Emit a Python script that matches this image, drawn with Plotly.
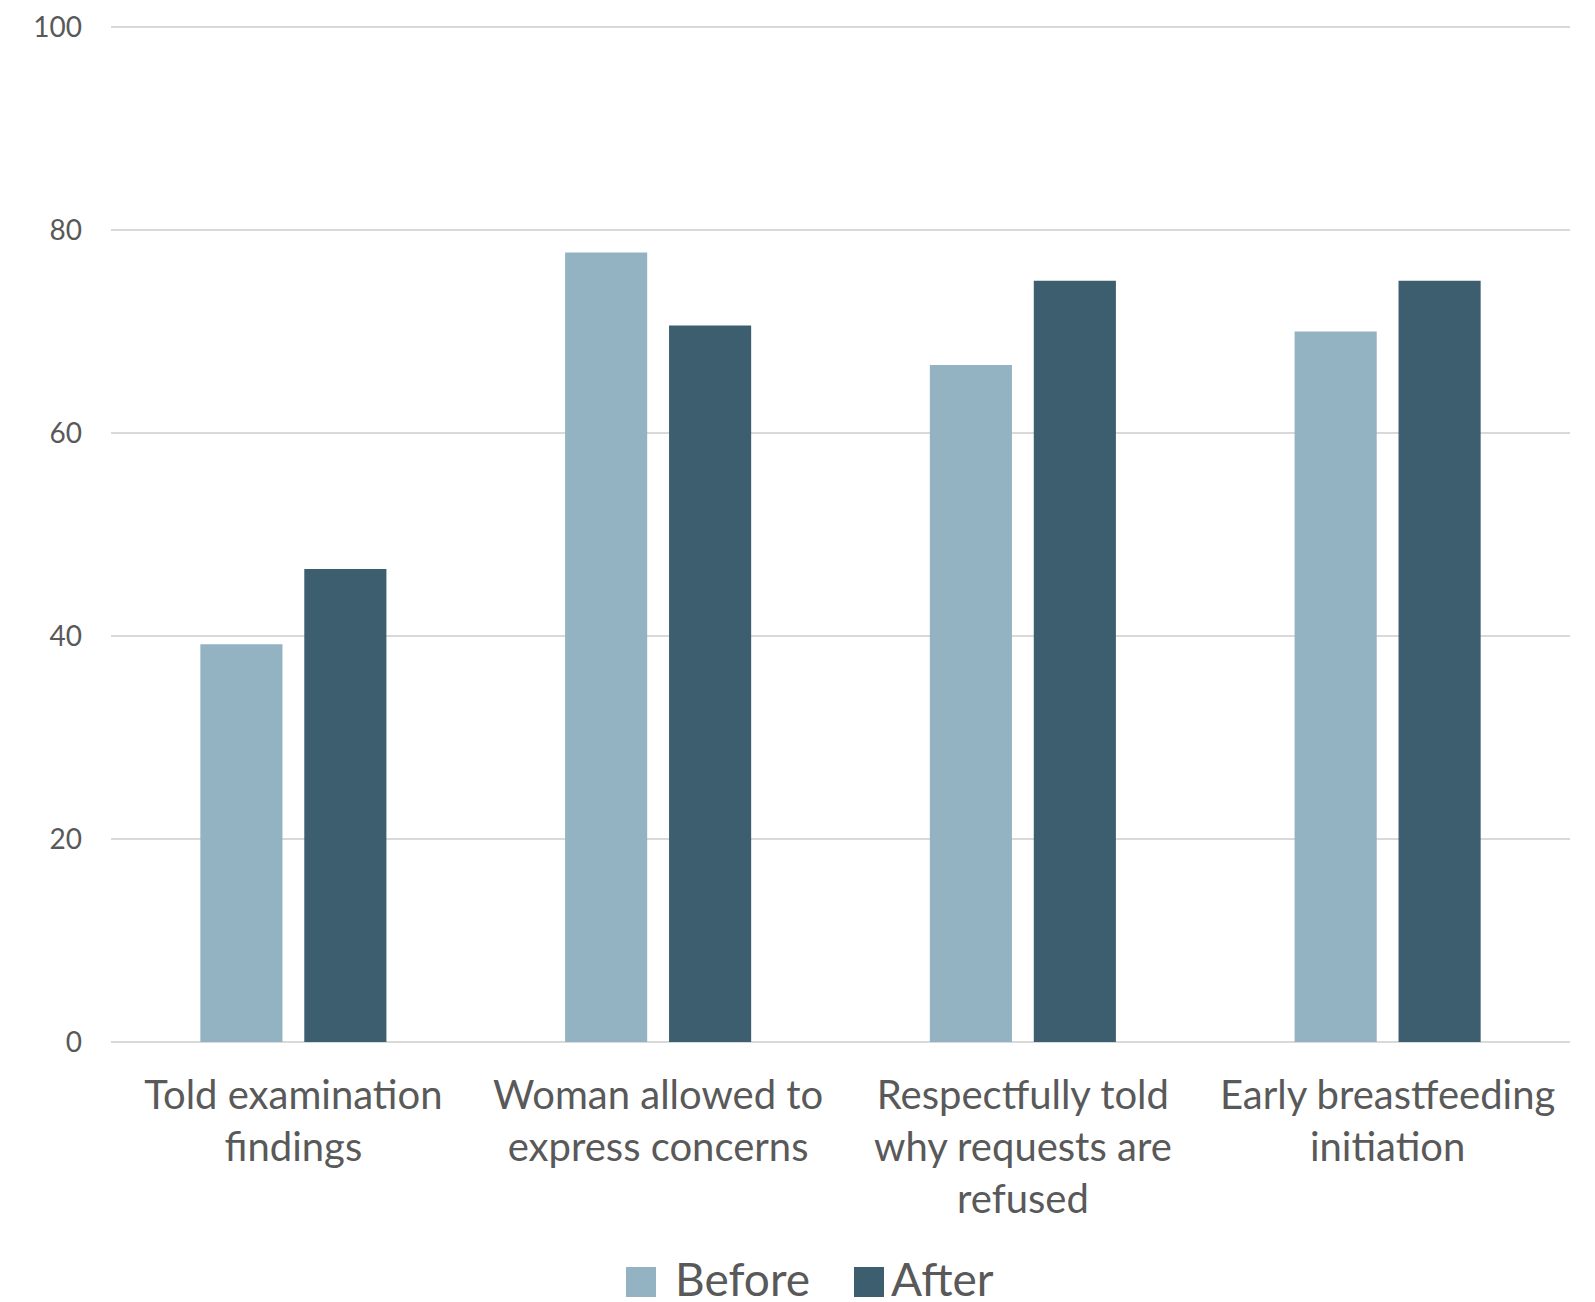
import plotly.graph_objects as go

# Survey indicators (% of women), before and after the intervention
categories = [
    "Told examination<br>findings",
    "Woman allowed to<br>express concerns",
    "Respectfully told<br>why requests are<br>refused",
    "Early breastfeeding<br>initiation",
]
series_names = ["Before", "After"]
before = [39.2, 77.8, 66.7, 70.0]
after = [46.6, 70.6, 75.0, 75.0]
y_ticks = [0, 20, 40, 60, 80, 100]

colors = {"Before": "#93B3C3", "After": "#3D5E6E"}
text_color = "#595959"
grid_color = "#D9D9D9"
font_family = "Lato, 'Open Sans', sans-serif"

W, H = 1595, 1302
# a little headroom above 100 so the top gridline is kept
M_L, M_R, M_T, M_B = 111, 25, 17, 260
Y_MAX = 101

fig = go.Figure()
for name, values in zip(series_names, [before, after]):
    fig.add_trace(go.Bar(
        x=categories, y=values, name=name,
        marker=dict(color=colors[name], line=dict(width=0)),
        showlegend=False,
    ))

# Legend drawn as large square swatches with labels under the plot
plot_w = W - M_L - M_R
plot_h = H - M_T - M_B


def px_to_paper_x(px):
    return (px - M_L) / plot_w


def px_to_paper_y(py):
    return (H - M_B - py) / plot_h


legend_items = [("Before", 626, 673), ("After", 854, 889)]
sw = 30
sw_top = 1267
shapes = []
annotations = []
for name, sx, tx in legend_items:
    shapes.append(dict(
        type="rect", xref="paper", yref="paper",
        x0=px_to_paper_x(sx), x1=px_to_paper_x(sx + sw),
        y0=px_to_paper_y(sw_top + sw), y1=px_to_paper_y(sw_top),
        fillcolor=colors[name], line=dict(width=0),
    ))
    annotations.append(dict(
        text=name, xref="paper", yref="paper",
        x=px_to_paper_x(tx), y=px_to_paper_y(sw_top + sw / 2 - 4),
        xanchor="left", yanchor="middle", showarrow=False,
        font=dict(size=46, color=text_color, family=font_family),
    ))

fig.update_layout(
    width=W, height=H,
    margin=dict(l=M_L, r=M_R, t=M_T, b=M_B, pad=0),
    paper_bgcolor="white", plot_bgcolor="white",
    barmode="group", bargap=0.43, bargroupgap=0.21,
    font=dict(family=font_family, color=text_color),
    shapes=shapes, annotations=annotations,
    showlegend=False,
)
fig.update_xaxes(
    tickfont=dict(size=40, color=text_color),
    showgrid=False, showline=False, ticks="",
    ticklabelstandoff=26, automargin=False,
)
fig.update_yaxes(
    range=[0, Y_MAX], tickvals=y_ticks,
    tickfont=dict(size=28, color=text_color),
    showgrid=True, gridcolor=grid_color, gridwidth=2,
    zeroline=True, zerolinecolor=grid_color, zerolinewidth=2,
    showline=False, ticks="", ticklabelstandoff=28, automargin=False,
)

fig.write_html("out.html")
